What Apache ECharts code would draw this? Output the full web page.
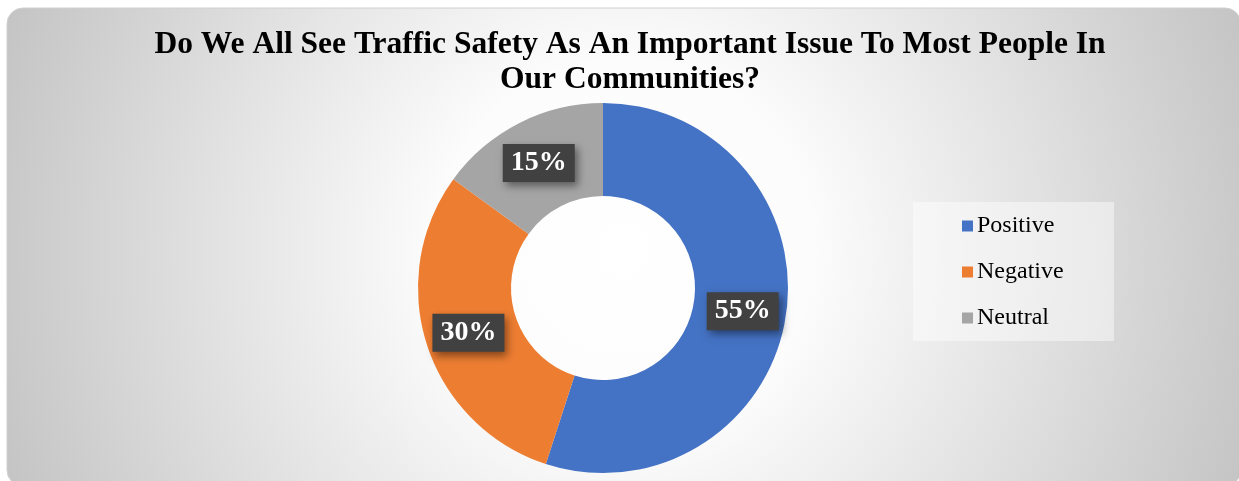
<!DOCTYPE html>
<html>
<head>
<meta charset="utf-8">
<script src="https://cdn.jsdelivr.net/npm/echarts@6/dist/echarts.min.js"></script>
<style>
  html, body { margin: 0; padding: 0; background: #ffffff; }
  #chart { width: 1239px; height: 481px; }
</style>
</head>
<body>
<div id="chart"></div>
<script>
// Survey answers and their shares (percent)
const titleText = 'Do We All See Traffic Safety As An Important Issue To Most People In\nOur Communities?';
const categories = ['Positive', 'Negative', 'Neutral'];
const shares = [55, 30, 15];
const sliceColors = ['#4472C4', '#ED7D31', '#A5A5A5'];

const serif = '"Liberation Serif", "Times New Roman", "DejaVu Serif", serif';

const chart = echarts.init(document.getElementById('chart'), null, { renderer: 'canvas' });

const pieData = categories.map((name, i) => ({
  name: name,
  value: shares[i],
  itemStyle: { color: sliceColors[i] }
}));

chart.setOption({
  animation: false,
  backgroundColor: '#ffffff',
  graphic: [
    {
      // chart area panel with a soft radial shading
      type: 'rect',
      z: -10,
      shape: { x: 7, y: 8, width: 1234, height: 478, r: 16 },
      style: {
        fill: new echarts.graphic.RadialGradient(625, 250, 670, [
          { offset: 0, color: '#ffffff' },
          { offset: 0.28, color: '#fcfcfc' },
          { offset: 0.6, color: '#e3e3e3' },
          { offset: 1, color: '#c3c3c3' }
        ], true),
        stroke: '#d0d0d0',
        lineWidth: 1
      }
    },
    {
      // legend panel
      type: 'rect',
      z: -5,
      shape: { x: 913, y: 202, width: 201, height: 139 },
      style: { fill: 'rgba(255,255,255,0.45)' }
    }
  ],
  title: {
    text: titleText,
    left: 625,
    top: 22,
    textAlign: 'center',
    textStyle: {
      fontFamily: serif,
      fontWeight: 'bold',
      fontSize: 31.5,
      lineHeight: 35,
      color: '#000000'
    }
  },
  legend: {
    orient: 'vertical',
    left: 962,
    top: 214,
    padding: 0,
    itemWidth: 11,
    itemHeight: 11,
    itemGap: 22,
    icon: 'rect',
    data: categories,
    textStyle: {
      fontFamily: serif,
      fontSize: 24,
      lineHeight: 24,
      color: '#000000',
      padding: [0, 0, 0, -1]
    }
  },
  series: [
    {
      type: 'pie',
      center: [603, 288],
      radius: [92, 185],
      startAngle: 90,
      clockwise: true,
      avoidLabelOverlap: false,
      itemStyle: { borderWidth: 0 },
      label: {
        show: true,
        position: 'inside',
        formatter: '{c}%',
        offset: [0, 1],
        fontFamily: serif,
        fontWeight: 'bold',
        fontSize: 28,
        lineHeight: 28,
        color: '#ffffff',
        backgroundColor: '#414141',
        padding: [6, 8, 4, 8],
        shadowColor: 'rgba(0,0,0,0.45)',
        shadowBlur: 8,
        shadowOffsetX: 3,
        shadowOffsetY: 4
      },
      labelLine: { show: false },
      emphasis: { disabled: true },
      data: pieData
    }
  ]
});
</script>
</body>
</html>
